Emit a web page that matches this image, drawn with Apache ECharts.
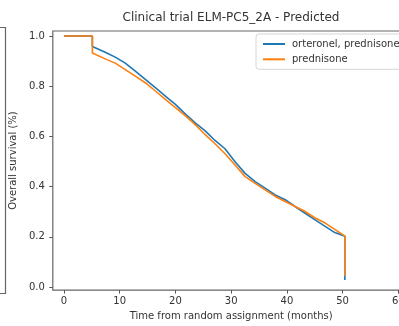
<!DOCTYPE html>
<html>
<head>
<meta charset="utf-8">
<script src="https://cdn.jsdelivr.net/npm/echarts@6/dist/echarts.min.js"></script>
<style>
  html, body { margin: 0; padding: 0; background: #fff; overflow: hidden; width: 399px; height: 326px; }
  #chart { width: 420px; height: 326px; }
</style>
</head>
<body>
<div id="chart"></div>
<script>
// Kaplan-Meier style predicted survival curves, ELM-PC5 trial (arm 2A)
const seriesNames = ['orteronel, prednisone', 'prednisone'];

const monthsOrteronel = [0, 5.1, 5.1, 7.5, 9.2, 11.0, 12.8, 14.6, 16.4, 18.2, 20.0, 21.8, 23.6, 25.3, 27.1, 28.9, 30.7, 32.5, 34.3, 36.1, 37.9, 39.7, 41.4, 43.2, 45.0, 46.8, 48.6, 50.4, 50.4];
const survivalOrteronel = [1.0, 1.0, 0.958, 0.934, 0.916, 0.892, 0.860, 0.827, 0.794, 0.761, 0.728, 0.689, 0.653, 0.623, 0.584, 0.551, 0.499, 0.453, 0.420, 0.394, 0.367, 0.348, 0.322, 0.295, 0.269, 0.243, 0.217, 0.203, 0.028];

const monthsPrednisone = [0, 5.1, 5.1, 7.5, 9.2, 11.0, 12.8, 14.6, 16.4, 18.2, 20.0, 21.8, 23.6, 25.3, 27.1, 28.9, 30.7, 32.5, 34.3, 36.1, 37.9, 39.7, 41.4, 43.2, 45.0, 46.8, 48.6, 50.4, 50.4];
const survivalPrednisone = [1.0, 1.0, 0.932, 0.908, 0.892, 0.866, 0.840, 0.814, 0.781, 0.748, 0.715, 0.682, 0.646, 0.608, 0.571, 0.531, 0.486, 0.440, 0.413, 0.387, 0.361, 0.341, 0.322, 0.302, 0.276, 0.256, 0.230, 0.203, 0.045];

const xTicks = [0, 10, 20, 30, 40, 50, 60];
const yTicks = [0, 0.2, 0.4, 0.6, 0.8, 1.0];

const colors = ['#1f77b4', '#ff7f0e'];
const FONT = 'DejaVu Sans';

function pairs(xs, ys) { return xs.map((x, i) => [x, ys[i]]); }

const chart = echarts.init(document.getElementById('chart'), null, { renderer: 'canvas' });

chart.setOption({
  animation: false,
  backgroundColor: '#ffffff',
  title: {
    text: 'Clinical trial ELM-PC5_2A - Predicted',
    left: 231,
    top: 12,
    textAlign: 'center',
    padding: 0,
    textStyle: { fontFamily: FONT, fontSize: 12, fontWeight: 'normal', color: '#333' }
  },
  legend: {
    orient: 'vertical',
    left: 256,
    top: 34,
    padding: [4, 8, 4, 7],
    itemGap: 3.3,
    itemWidth: 22,
    itemHeight: 2,
    icon: 'rect',
    backgroundColor: '#ffffff',
    borderColor: '#d6d6d6',
    borderWidth: 1,
    borderRadius: 3,
    textStyle: { fontFamily: FONT, fontSize: 10, color: '#333', lineHeight: 12, padding: [0, 0, 0, 2] },
    data: seriesNames
  },
  grid: {
    left: 52,
    top: 31,
    width: 357.5,
    height: 262.3,
    show: true,
    borderColor: '#666',
    borderWidth: 1.2,
    backgroundColor: 'transparent'
  },
  xAxis: {
    type: 'value',
    min: -2,
    max: 62,
    name: 'Time from random assignment (months)',
    nameLocation: 'middle',
    nameGap: 20,
    nameTextStyle: { fontFamily: FONT, fontSize: 10, color: '#333' },
    axisLine: { show: false, onZero: false },
    splitLine: { show: false },
    axisTick: { show: true, length: 3.5, lineStyle: { color: '#555', width: 1 }, customValues: xTicks },
    axisLabel: {
      customValues: xTicks,
      margin: 6,
      fontFamily: FONT, fontSize: 10, color: '#333',
      formatter: v => String(Math.round(v))
    }
  },
  yAxis: {
    type: 'value',
    min: -0.012,
    max: 1.02,
    name: 'Overall survival (%)',
    nameLocation: 'middle',
    nameGap: 26,
    nameRotate: 90,
    nameTextStyle: { fontFamily: FONT, fontSize: 10, color: '#333' },
    axisLine: { show: false, onZero: false },
    splitLine: { show: false },
    axisTick: { show: true, length: 3.5, lineStyle: { color: '#555', width: 1 }, customValues: yTicks },
    axisLabel: {
      customValues: yTicks,
      margin: 8,
      fontFamily: FONT, fontSize: 10, color: '#333',
      formatter: v => v.toFixed(1)
    }
  },
  series: [
    {
      name: seriesNames[0],
      type: 'line',
      data: pairs(monthsOrteronel, survivalOrteronel),
      showSymbol: false,
      symbol: 'none',
      lineStyle: { color: colors[0], width: 1.6 },
      itemStyle: { color: colors[0] },
      z: 2
    },
    {
      name: seriesNames[1],
      type: 'line',
      data: pairs(monthsPrednisone, survivalPrednisone),
      showSymbol: false,
      symbol: 'none',
      lineStyle: { color: colors[1], width: 1.6 },
      itemStyle: { color: colors[1] },
      z: 3
    }
  ],
  graphic: [
    {
      // edge of the neighbouring panel on the left
      type: 'polyline',
      shape: { points: [[0, 27.5], [5.5, 27.5], [5.5, 293.5], [0, 293.5]] },
      style: { stroke: '#666', lineWidth: 1.2, fill: null },
      silent: true
    }
  ]
});
</script>
</body>
</html>
